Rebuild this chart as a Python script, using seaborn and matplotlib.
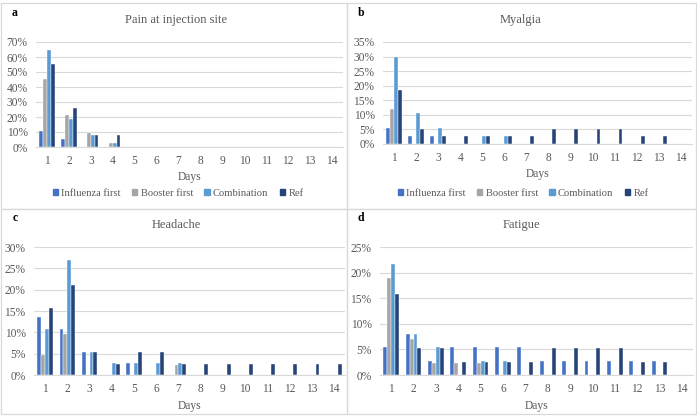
import pandas as pd
import matplotlib.pyplot as plt
import seaborn as sns
from matplotlib.ticker import PercentFormatter
from matplotlib.patches import Rectangle, Patch

sns.set_style('white')
plt.rcParams['font.family'] = ['Liberation Serif', 'DejaVu Serif']

days = [str(d) for d in range(1, 15)]
groups = ['Influenza first', 'Booster first', 'Combination', 'Ref']
colors = ['#4472C4', '#A5A5A5', '#5B9BD5', '#264478']

# values in percent, days 1..14
pain_if = [10.8, 5.4, 0, 0, 0, 0, 0, 0, 0, 0, 0, 0, 0, 0]
pain_bf = [45.2, 21.4, 9.5, 2.4, 0, 0, 0, 0, 0, 0, 0, 0, 0, 0]
pain_comb = [64.9, 18.9, 8.1, 2.7, 0, 0, 0, 0, 0, 0, 0, 0, 0, 0]
pain_ref = [55.3, 26.3, 7.9, 7.9, 0, 0, 0, 0, 0, 0, 0, 0, 0, 0]

myal_if = [5.4, 2.7, 2.7, 0, 0, 0, 0, 0, 0, 0, 0, 0, 0, 0]
myal_bf = [11.9, 0, 0, 0, 0, 0, 0, 0, 0, 0, 0, 0, 0, 0]
myal_comb = [29.7, 10.8, 5.4, 0, 2.7, 2.7, 0, 0, 0, 0, 0, 0, 0, 0]
myal_ref = [18.4, 5.3, 2.6, 2.6, 2.6, 2.6, 2.6, 5.3, 5.3, 5.3, 5.3, 2.6, 2.6, 0]

head_if = [13.5, 10.8, 5.4, 0, 2.7, 0, 0, 0, 0, 0, 0, 0, 0, 0]
head_bf = [4.8, 9.5, 0, 0, 0, 0, 2.4, 0, 0, 0, 0, 0, 0, 0]
head_comb = [10.8, 27.0, 5.4, 2.7, 2.7, 2.7, 2.7, 0, 0, 0, 0, 0, 0, 0]
head_ref = [15.8, 21.1, 5.3, 2.6, 5.3, 5.3, 2.6, 2.6, 2.6, 2.6, 2.6, 2.6, 2.6, 2.6]

fat_if = [5.4, 8.1, 2.7, 5.4, 5.4, 5.4, 5.4, 2.7, 2.7, 2.7, 2.7, 2.7, 2.7, 0]
fat_bf = [19.0, 7.1, 2.4, 2.4, 2.4, 0, 0, 0, 0, 0, 0, 0, 0, 0]
fat_comb = [21.6, 8.1, 5.4, 0, 2.7, 2.7, 0, 0, 0, 0, 0, 0, 0, 0]
fat_ref = [15.8, 5.3, 5.3, 2.6, 2.6, 2.6, 2.6, 5.3, 5.3, 5.3, 5.3, 2.6, 2.6, 0]

W, H = 697, 416
fig = plt.figure(figsize=(W / 100, H / 100), dpi=100)
grey = '#595959'
line_c = '#D9D9D9'


def px_axes(l, t, r, b):
    return fig.add_axes([l / W, 1 - b / H, (r - l) / W, (b - t) / H])


# panel boxes
for (x0, y0, x1, y1) in [(1, 3, 347, 209), (347, 3, 696, 209), (1, 209, 347, 414), (347, 209, 696, 414)]:
    fig.patches.append(Rectangle((x0 / W, 1 - y1 / H), (x1 - x0) / W, (y1 - y0) / H,
                                 transform=fig.transFigure, fill=False, ec=line_c, lw=0.9))

# letter, title, series, ymax, step, axes box (px), title centre x, show legend
panels = [
    ('a', 'Pain at injection site', [pain_if, pain_bf, pain_comb, pain_ref], 0.7, 0.1, (36, 42, 343, 147), 176, True),
    ('b', 'Myalgia', [myal_if, myal_bf, myal_comb, myal_ref], 0.35, 0.05, (383, 42, 692, 144), 521, True),
    ('c', 'Headache', [head_if, head_bf, head_comb, head_ref], 0.3, 0.05, (34, 247, 345, 375), 176, False),
    ('d', 'Fatigue', [fat_if, fat_bf, fat_comb, fat_ref], 0.25, 0.05, (380, 247, 693, 375), 521, False),
]

for letter, title, series, ymax, step, box, tx, show_leg in panels:
    rows = []
    for g, vals in zip(groups, series):
        for d, v in zip(days, vals):
            rows.append({'day': d, 'group': g, 'value': v / 100})
    df = pd.DataFrame(rows)
    ax = px_axes(*box)
    sns.barplot(data=df, x='day', y='value', hue='group', order=days, hue_order=groups,
                palette=colors, width=0.7, gap=0, saturation=1, legend=False,
                linewidth=0.3, edgecolor='white', ax=ax)
    ax.set_ylim(0, ymax)
    ax.set_xlim(-0.5, 13.5)
    yt = [i * step for i in range(int(round(ymax / step)) + 1)]
    ax.set_yticks(yt)
    ax.yaxis.set_major_formatter(PercentFormatter(1.0, decimals=0))
    ax.grid(axis='y', color=line_c, lw=0.8)
    ax.set_axisbelow(True)
    for s in ['left', 'right', 'top']:
        ax.spines[s].set_visible(False)
    ax.spines['bottom'].set_color(line_c)
    ax.tick_params(axis='both', length=0, labelsize=8.3, colors=grey, pad=6)
    ax.set_xlabel('Days', fontsize=8.3, color=grey, labelpad=3)
    ax.set_ylabel('')
    ty = 20 if box[1] < 100 else 225
    fig.text(tx / W, 1 - ty / H, title, ha='center', va='center', fontsize=9, color=grey)
    lx = 15 if box[0] < 100 else 361
    fig.text(lx / W, 1 - (ty - 7) / H, letter, ha='center', va='center', fontsize=8.5,
             fontweight='bold', color='black')
    if show_leg:
        handles = [Patch(color=c, label=g) for g, c in zip(groups, colors)]
        leg = fig.legend(handles=handles, loc='center', bbox_to_anchor=((tx + 2) / W, 1 - 193 / H), ncol=4,
                         frameon=False, fontsize=7.6, handlelength=0.5, handleheight=0.55,
                         handletextpad=0.3, columnspacing=1.1, borderpad=0)
        for t in leg.get_texts():
            t.set_color(grey)

fig.savefig('out.png', dpi=100)
